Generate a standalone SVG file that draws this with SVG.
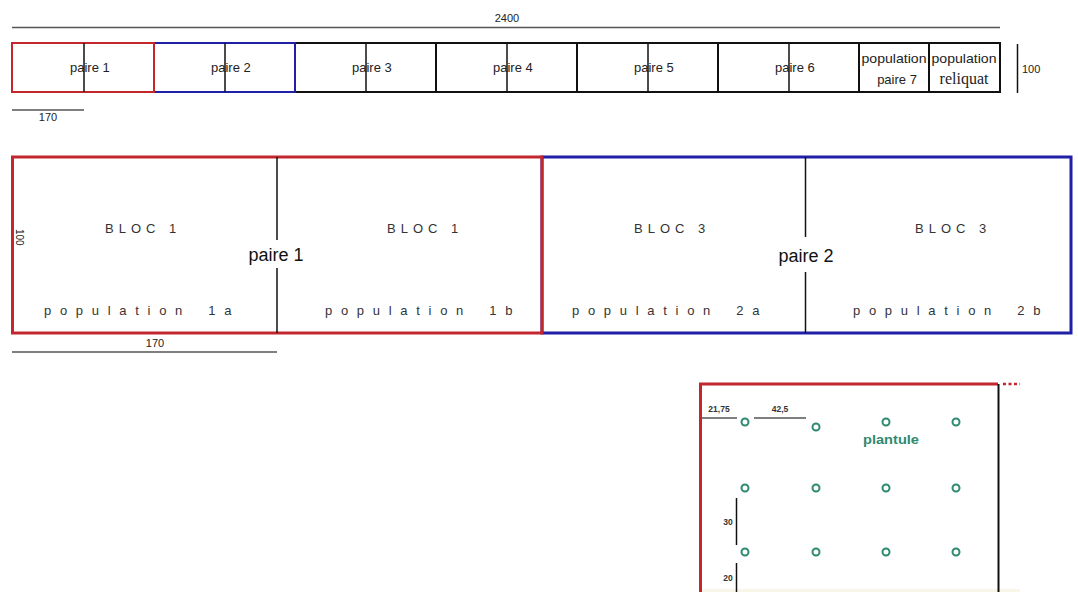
<svg xmlns="http://www.w3.org/2000/svg" width="1078" height="592" viewBox="0 0 1078 592">
<style>
text{font-family:"Liberation Sans",Arial,sans-serif;fill:#222}
.t13{font-size:13px}
.dim{font-size:11px}
.blk{fill:none;stroke:#111;stroke-width:2}
.thin{stroke:#111;stroke-width:1.5;fill:none}
.gray{stroke:#555;stroke-width:1.5;fill:none}
.red{fill:none;stroke:#c4262e;stroke-width:3}
.blue{fill:none;stroke:#1f1fa8;stroke-width:3}
.bloc{font-size:13px;letter-spacing:5px;fill:#333}
.pop{font-size:13px;letter-spacing:8.7px;word-spacing:5px;fill:#333}
.big{font-size:18px;text-anchor:middle;fill:#111}
.plant{fill:none;stroke:#2e8a70;stroke-width:2}
.small{font-size:8.5px;font-weight:bold;fill:#333}
</style>

<g id="strip">
  <line class="gray" x1="12" y1="27.5" x2="1000" y2="27.5"/>
  <text class="dim" x="507" y="22" text-anchor="middle">2400</text>
  <rect class="blk" x="12" y="43" width="988" height="49"/>
  <line class="blk" x1="436" y1="43" x2="436" y2="92"/>
  <line class="blk" x1="577" y1="43" x2="577" y2="92"/>
  <line class="blk" x1="718" y1="43" x2="718" y2="92"/>
  <line class="blk" x1="859" y1="43" x2="859" y2="92"/>
  <line class="blk" x1="929" y1="43" x2="929" y2="92"/>
  <rect x="154" y="43" width="141" height="49" fill="none" stroke="#1f1fa8" stroke-width="2"/>
  <rect x="12" y="43" width="142" height="49" fill="none" stroke="#c4262e" stroke-width="2"/>
  <line class="thin" x1="84" y1="43" x2="84" y2="92"/>
  <line class="thin" x1="225" y1="43" x2="225" y2="92"/>
  <line class="thin" x1="366" y1="43" x2="366" y2="92"/>
  <line class="thin" x1="507" y1="43" x2="507" y2="92"/>
  <line class="thin" x1="648" y1="43" x2="648" y2="92"/>
  <line class="thin" x1="789" y1="43" x2="789" y2="92"/>
  <text class="t13" x="70" y="72">paire 1</text>
  <text class="t13" x="211" y="72">paire 2</text>
  <text class="t13" x="352" y="72">paire 3</text>
  <text class="t13" x="493" y="72">paire 4</text>
  <text class="t13" x="634" y="72">paire 5</text>
  <text class="t13" x="775" y="72">paire 6</text>
  <text class="t13" x="894" y="63" text-anchor="middle" textLength="65" lengthAdjust="spacingAndGlyphs">population</text>
  <text class="t13" x="897" y="84" text-anchor="middle">paire 7</text>
  <text class="t13" x="964" y="63" text-anchor="middle" textLength="65" lengthAdjust="spacingAndGlyphs">population</text>
  <text x="964" y="84" text-anchor="middle" style="font-family:'Liberation Serif','Times New Roman',serif;font-size:16px">reliquat</text>
  <line class="thin" x1="1017.5" y1="44" x2="1017.5" y2="93"/>
  <text class="dim" x="1022" y="73">100</text>
  <line class="gray" x1="12" y1="110" x2="84" y2="110"/>
  <text class="dim" x="48" y="121" text-anchor="middle">170</text>
</g>

<g id="pair2-block">
  <rect class="blue" x="542" y="157" width="529" height="176"/>
  <line class="thin" x1="805.5" y1="157" x2="805.5" y2="237"/>
  <line class="thin" x1="805.5" y1="272" x2="805.5" y2="333"/>
  <text class="bloc" x="634" y="233">BLOC 3</text>
  <text class="bloc" x="915" y="233">BLOC 3</text>
  <text class="big" x="806" y="262">paire 2</text>
  <text class="pop" x="572" y="315">population 2a</text>
  <text class="pop" x="853" y="315">population 2b</text>
</g>

<g id="pair1-block">
  <rect class="red" x="12.5" y="157" width="529.5" height="176"/>
  <line class="thin" x1="277" y1="157" x2="277" y2="240"/>
  <line class="thin" x1="277" y1="268" x2="277" y2="333"/>
  <text class="bloc" x="105" y="233">BLOC 1</text>
  <text class="bloc" x="387" y="233">BLOC 1</text>
  <text class="big" x="276" y="261">paire 1</text>
  <text class="pop" x="44" y="315">population 1a</text>
  <text class="pop" x="325" y="315">population 1b</text>
  <text transform="translate(16,229) rotate(90)" style="font-size:10px">100</text>
  <line class="gray" x1="12" y1="352" x2="277" y2="352"/>
  <text class="dim" x="155" y="347" text-anchor="middle">170</text>
</g>

<g id="detail">
  <rect x="702" y="589" width="318" height="3" fill="#f8f6e8"/>
  <path class="red" d="M700.5,592 V384 H998"/>
  <line x1="998.5" y1="384" x2="998.5" y2="592" stroke="#111" stroke-width="2"/>
  <line x1="1003" y1="384" x2="1020" y2="384" stroke="#c4262e" stroke-width="2.5" stroke-dasharray="3,2.5"/>
  <circle class="plant" cx="745" cy="422" r="3.5"/>
  <circle class="plant" cx="816" cy="427" r="3.5"/>
  <circle class="plant" cx="886" cy="422" r="3.5"/>
  <circle class="plant" cx="956" cy="422" r="3.5"/>
  <circle class="plant" cx="745" cy="488" r="3.5"/>
  <circle class="plant" cx="816" cy="488" r="3.5"/>
  <circle class="plant" cx="886" cy="488" r="3.5"/>
  <circle class="plant" cx="956" cy="488" r="3.5"/>
  <circle class="plant" cx="745" cy="552" r="3.5"/>
  <circle class="plant" cx="816" cy="552" r="3.5"/>
  <circle class="plant" cx="886" cy="552" r="3.5"/>
  <circle class="plant" cx="956" cy="552" r="3.5"/>
  <text x="891" y="444" text-anchor="middle" style="font-size:13px;font-weight:bold;fill:#2e8a70" textLength="56" lengthAdjust="spacingAndGlyphs">plantule</text>
  <line class="gray" x1="702" y1="418" x2="737" y2="418"/>
  <text class="small" x="719" y="412" text-anchor="middle">21,75</text>
  <line class="gray" x1="754" y1="418" x2="806" y2="418"/>
  <text class="small" x="780" y="412" text-anchor="middle">42,5</text>
  <line class="thin" x1="736.5" y1="498" x2="736.5" y2="545"/>
  <text class="small" x="728" y="525" text-anchor="middle">30</text>
  <line class="thin" x1="736.5" y1="563" x2="736.5" y2="592"/>
  <text class="small" x="728" y="581" text-anchor="middle">20</text>
</g>
</svg>
